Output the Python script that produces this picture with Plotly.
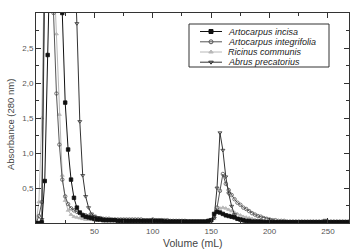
import plotly.graph_objects as go

# ---------------- data ----------------
volume = [i * 2.5 for i in range(108)]  # mL, 0 .. 267.5

series_names = ["Artocarpus incisa", "Artocarpus integrifolia",
                "Ricinus communis", "Abrus precatorius"]

incisa = [
    0.00, 0.00, 0.01, 0.60, 2.40, 4.20, 5.00, 4.60, 3.80, 3.00,
    1.72, 1.05, 0.62, 0.36, 0.22, 0.15, 0.11, 0.09, 0.08, 0.07,
    0.06, 0.05, 0.05, 0.04, 0.04, 0.04, 0.04, 0.04, 0.03, 0.03,
    0.03, 0.03, 0.03, 0.03, 0.03, 0.03, 0.03, 0.03, 0.03, 0.03,
    0.03, 0.03, 0.03, 0.03, 0.02, 0.02, 0.02, 0.02, 0.02, 0.02,
    0.02, 0.02, 0.02, 0.02, 0.02, 0.02, 0.02, 0.02, 0.02, 0.03,
    0.04, 0.13, 0.16, 0.15, 0.13, 0.11, 0.10, 0.09, 0.08, 0.06,
    0.05, 0.04, 0.03, 0.03, 0.02, 0.02, 0.02, 0.02, 0.01, 0.01,
    0.01, 0.01, 0.01, 0.01, 0.01, 0.01, 0.01, 0.01, 0.01, 0.01,
    0.01, 0.01, 0.01, 0.01, 0.01, 0.01, 0.01, 0.01, 0.01, 0.01,
    0.01, 0.01, 0.01, 0.01, 0.01, 0.01, 0.01, 0.01,
]

integrifolia = [
    0.00, 0.10, 0.30, 4.00, 5.00, 4.50, 3.00, 1.85, 1.12, 0.62,
    0.38, 0.27, 0.21, 0.18, 0.16, 0.14, 0.12, 0.11, 0.10, 0.09,
    0.08, 0.07, 0.07, 0.06, 0.06, 0.06, 0.05, 0.05, 0.05, 0.05,
    0.05, 0.05, 0.05, 0.05, 0.05, 0.05, 0.05, 0.04, 0.04, 0.04,
    0.05, 0.04, 0.04, 0.04, 0.04, 0.04, 0.03, 0.03, 0.03, 0.03,
    0.03, 0.03, 0.02, 0.02, 0.02, 0.02, 0.02, 0.02, 0.02, 0.03,
    0.04, 0.08, 0.22, 0.46, 0.70, 0.56, 0.47, 0.40, 0.34, 0.29,
    0.26, 0.22, 0.20, 0.17, 0.14, 0.12, 0.10, 0.09, 0.07, 0.06,
    0.05, 0.04, 0.04, 0.03, 0.03, 0.03, 0.02, 0.02, 0.02, 0.02,
    0.02, 0.02, 0.02, 0.02, 0.02, 0.02, 0.02, 0.02, 0.02, 0.02,
    0.02, 0.02, 0.02, 0.02, 0.02, 0.02, 0.02, 0.02,
]

ricinus = [
    0.00, 0.30, 1.50, 4.00, 4.80, 4.50, 3.70, 2.70, 1.55, 0.68,
    0.32, 0.18, 0.12, 0.09, 0.08, 0.07, 0.06, 0.05, 0.05, 0.05,
    0.04, 0.04, 0.04, 0.04, 0.03, 0.03, 0.03, 0.03, 0.03, 0.03,
    0.03, 0.03, 0.03, 0.03, 0.03, 0.03, 0.03, 0.03, 0.03, 0.03,
    0.03, 0.03, 0.03, 0.03, 0.03, 0.02, 0.02, 0.02, 0.02, 0.02,
    0.02, 0.02, 0.02, 0.02, 0.02, 0.02, 0.02, 0.02, 0.02, 0.02,
    0.03, 0.06, 0.15, 0.21, 0.22, 0.21, 0.19, 0.17, 0.15, 0.13,
    0.11, 0.09, 0.08, 0.07, 0.06, 0.05, 0.04, 0.04, 0.03, 0.03,
    0.03, 0.02, 0.02, 0.02, 0.02, 0.02, 0.02, 0.02, 0.02, 0.02,
    0.02, 0.02, 0.02, 0.02, 0.02, 0.02, 0.02, 0.02, 0.02, 0.02,
    0.02, 0.02, 0.02, 0.02, 0.02, 0.02, 0.02, 0.02,
]

abrus = [
    0.00, 0.00, 0.05, 3.50, 4.80, 5.00, 5.00, 5.00, 5.00, 5.00,
    5.00, 4.90, 4.60, 4.00, 2.85, 1.45, 0.68, 0.38, 0.22, 0.13,
    0.10, 0.08, 0.07, 0.06, 0.05, 0.05, 0.04, 0.04, 0.04, 0.04,
    0.04, 0.03, 0.03, 0.03, 0.03, 0.03, 0.03, 0.03, 0.03, 0.03,
    0.03, 0.03, 0.03, 0.03, 0.03, 0.02, 0.02, 0.02, 0.02, 0.02,
    0.02, 0.02, 0.02, 0.02, 0.02, 0.02, 0.02, 0.02, 0.02, 0.03,
    0.04, 0.07, 0.50, 1.29, 1.04, 0.66, 0.42, 0.24, 0.12, 0.06,
    0.04, 0.03, 0.02, 0.02, 0.02, 0.02, 0.02, 0.02, 0.02, 0.02,
    0.02, 0.02, 0.02, 0.02, 0.02, 0.02, 0.02, 0.02, 0.02, 0.02,
    0.02, 0.02, 0.02, 0.02, 0.02, 0.02, 0.02, 0.02, 0.02, 0.04,
    0.02, 0.02, 0.02, 0.02, 0.02, 0.02, 0.02, 0.02,
]

x_ticks = [50, 100, 150, 200, 250]
y_ticks = [0.5, 1.0, 1.5, 2.0, 2.5]

# ---------------- styles ----------------
styles = {
    "Artocarpus incisa": dict(color="#111111", symbol="square", fill="#111111"),
    "Artocarpus integrifolia": dict(color="#555555", symbol="circle-open", fill="#555555"),
    "Ricinus communis": dict(color="#b8b8b8", symbol="triangle-up", fill="#b8b8b8"),
    "Abrus precatorius": dict(color="#333333", symbol="triangle-down-open", fill="#333333"),
}
values = {
    "Artocarpus incisa": incisa,
    "Artocarpus integrifolia": integrifolia,
    "Ricinus communis": ricinus,
    "Abrus precatorius": abrus,
}
draw_order = ["Ricinus communis", "Artocarpus integrifolia",
              "Abrus precatorius", "Artocarpus incisa"]

fig = go.Figure()
for name in draw_order:
    st = styles[name]
    fig.add_trace(go.Scatter(
        x=volume, y=values[name], mode="lines+markers", name=name,
        line=dict(color=st["color"], width=1),
        marker=dict(symbol=st["symbol"], size=3.5, color=st["fill"],
                    line=dict(color=st["color"], width=0.8)),
        showlegend=False,
    ))

# ---------------- hand-made compact legend ----------------
W, H = 356, 251
L, R, T, B = 36, 7, 13, 28
pw, ph = W - L - R, H - T - B


def px_x(p):
    return (p - L) / pw


def px_y(p):
    return (H - B - p) / ph


row_y = [31.5, 41.8, 52.0, 62.2]
for name, ry in zip(series_names, row_y):
    st = styles[name]
    yy = px_y(ry)
    fig.add_trace(go.Scatter(
        x=[px_x(200), px_x(222)], y=[yy, yy], mode="lines",
        line=dict(color=st["color"], width=1),
        xaxis="x2", yaxis="y2", showlegend=False, hoverinfo="skip"))
    fig.add_trace(go.Scatter(
        x=[px_x(211)], y=[yy], mode="markers",
        marker=dict(symbol=st["symbol"], size=4, color=st["fill"],
                    line=dict(color=st["color"], width=1)),
        xaxis="x2", yaxis="y2", showlegend=False, hoverinfo="skip"))
    fig.add_annotation(
        x=px_x(226), y=yy, xref="paper", yref="paper", text=name,
        showarrow=False, xanchor="left", yanchor="middle",
        font=dict(family="Liberation Sans", size=9, color="#222222",
                  style="italic"))

fig.add_shape(type="rect", xref="paper", yref="paper",
              x0=px_x(189), x1=px_x(329), y0=px_y(67), y1=px_y(24),
              line=dict(color="#333333", width=1), fillcolor="rgba(0,0,0,0)",
              layer="below")

axis_common = dict(
    showline=True, linecolor="#333333", linewidth=1, mirror="allticks",
    ticks="inside", ticklen=5, tickwidth=1, tickcolor="#333333",
    showgrid=False, zeroline=False,
    tickfont=dict(family="Liberation Sans", size=8, color="#555555"),
)

fig.update_layout(
    width=W, height=H,
    margin=dict(l=L, r=R, t=T, b=B, pad=0),
    paper_bgcolor="white", plot_bgcolor="white",
    separators=",.",
    xaxis=dict(range=[0, 268], tickmode="array", tickvals=x_ticks,
               minor=dict(tick0=0, dtick=25, ticks="inside", ticklen=3,
                          tickcolor="#333333"),
               **axis_common),
    yaxis=dict(range=[0, 3.0], tickmode="array", tickvals=y_ticks,
               tickformat=".1f",
               minor=dict(tick0=0, dtick=0.25, ticks="inside", ticklen=3,
                          tickcolor="#333333"),
               **axis_common),
    xaxis2=dict(range=[0, 1], domain=[0, 1], overlaying="x", visible=False,
                anchor="y2"),
    yaxis2=dict(range=[0, 1], domain=[0, 1], overlaying="y", visible=False,
                anchor="x2"),
    showlegend=False,
)

fig.add_annotation(x=0.5, y=px_y(243), xref="paper", yref="paper",
                   text="Volume (mL)", showarrow=False,
                   xanchor="center", yanchor="middle",
                   font=dict(family="Liberation Sans", size=10.5, color="#444444"))
fig.add_annotation(x=px_x(10), y=px_y(125), xref="paper", yref="paper",
                   text="Absorbance (280 nm)", showarrow=False, textangle=-90,
                   xanchor="center", yanchor="middle",
                   font=dict(family="Liberation Sans", size=9.5, color="#444444"))

fig.write_html("out.html")
